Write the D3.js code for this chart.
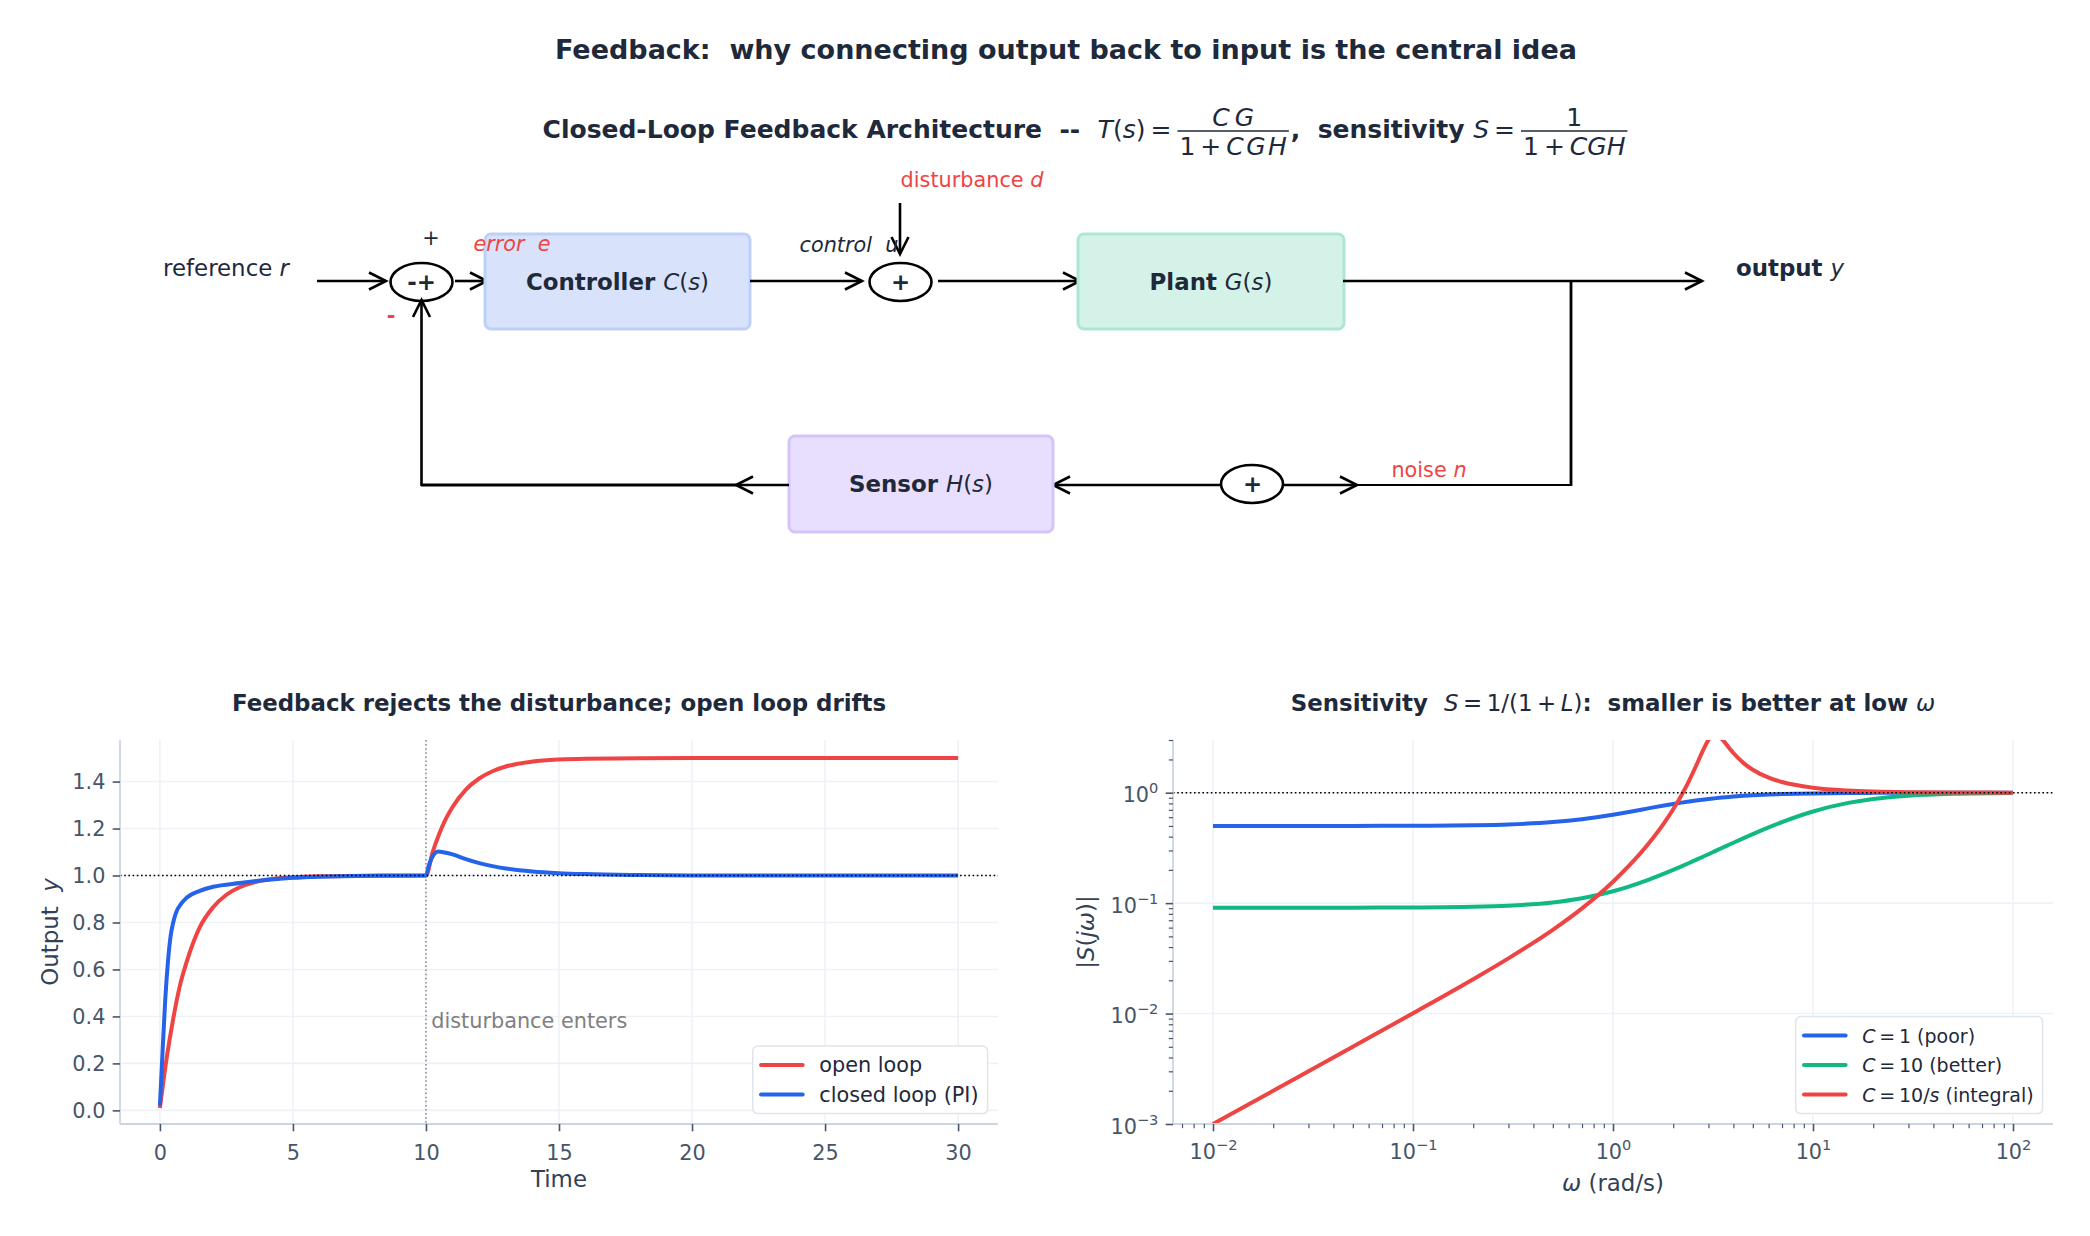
<!DOCTYPE html>
<html><head><meta charset="utf-8">
<script src="https://cdn.jsdelivr.net/npm/d3@7"></script>
<style>
body{margin:0;background:#fff;}
svg{display:block;font-family:"DejaVu Sans",sans-serif;}
text{white-space:pre;}
</style></head><body>
<svg id="chart" width="2090" height="1236"></svg>
<script>
// ---------------- data ----------------
const timeOpen   = [0,0.25,0.5,0.75,1,1.5,2,2.5,3,4,5,6,8,10,10.25,10.5,10.75,11,11.5,12,12.5,13,14,15,16,18,20,25,30];
const yOpenLoop  = [0.01,0.22,0.39,0.53,0.63,0.78,0.865,0.918,0.95,0.982,0.993,0.997,0.9995,1.0,1.099,1.178,1.242,1.292,1.366,1.413,1.444,1.464,1.485,1.494,1.4975,1.4995,1.5,1.5,1.5];
const timeClosed = [0,0.1,0.2,0.3,0.4,0.5,0.6,0.8,1,1.5,2,3,4,5,6,8,10,10.1,10.2,10.3,10.45,10.7,11,11.5,12,12.5,13,14,15,16,18,20,25,30];
const yClosedLoop= [0.02,0.25,0.47,0.63,0.74,0.80,0.84,0.88,0.905,0.935,0.952,0.968,0.981,0.99,0.995,0.999,1.0,1.04,1.07,1.09,1.102,1.098,1.09,1.07,1.053,1.04,1.03,1.017,1.01,1.006,1.002,1.0,1.0,1.0];
const timeTicks  = [0,5,10,15,20,25,30];
const outTicks   = [0,0.2,0.4,0.6,0.8,1.0,1.2,1.4];
const stepLegend = ["open loop","closed loop (PI)"];

const omega      = [0.01,0.02,0.05,0.1,0.2,0.3,0.5,0.7,1,1.2,1.5,1.8,2,2.2,2.4,2.6,2.8,3,3.2,3.5,3.8,4,4.5,5,6,7,10,15,20,30,50,100];
const sPoor      = [.5000,.5001,.5005,.5019,.5074,.5162,.5423,.5761,.6325,.6697,.7211,.7653,.7906,.8128,.8322,.8492,.8641,.8771,.8884,.9030,.9151,.9220,.9361,.9469,.9618,.9713,.9855,.9934,.9963,.9983,.9994,.9999];
const sBetter    = [.0909,.0909,.0910,.0914,.0927,.0949,.1015,.1107,.1280,.1412,.1624,.1847,.2000,.2154,.2309,.2465,.2619,.2774,.2927,.3153,.3376,.3523,.3879,.4220,.4855,.5423,.6760,.8082,.8773,.9394,.9768,.9940];
const sIntegral  = [.0010,.0020,.0050,.01006,.02047,.03159,.05726,.08961,.1562,.2169,.3426,.5298,.7071,.9478,1.2807,1.7435,2.354,3.0,3.343,3.062,2.555,2.287,1.853,1.6125,1.3678,1.2492,1.1098,1.0463,1.0256,1.0112,1.0040,1.0010];
const freqTicks  = [1e-2,1e-1,1,10,100];
const freqExps   = ["\u22122","\u22121","0","1","2"];
const magTicks   = [1e-3,1e-2,1e-1,1];
const magExps    = ["\u22123","\u22122","\u22121","0"];

// ---------------- setup ----------------
const RED="#ef4444", BLUE="#2563eb", GREEN="#10b981";
const DARK="#1e293b", TICK="#475569", LAB="#334155";
const TS="\u2009"; // thin space (math spacing)
const svg=d3.select("#chart");
svg.append("rect").attr("width",2090).attr("height",1236).attr("fill","#fff");

function addParts(t, parts){
  parts.forEach(p=>{
    const ts=t.append("tspan").text(p.t);
    if(p.i) ts.attr("font-style","italic");
    if(p.b!==undefined) ts.attr("font-weight",p.b?"bold":"normal");
    if(p.fill) ts.attr("fill",p.fill);
    if(p.size) ts.attr("font-size",p.size);
    if(p.dy!==undefined) ts.attr("dy",p.dy);
  });
  return t;
}
function rich(parent,x,y,parts,o={}){
  const t=parent.append("text").attr("x",x).attr("y",y)
    .attr("font-size",o.size||20.8).attr("fill",o.fill||DARK)
    .attr("text-anchor",o.anchor||"start").attr("font-weight",o.weight||"normal");
  if(o.transform) t.attr("transform",o.transform);
  return addParts(t,parts);
}

// ---------------- titles ----------------
svg.append("text").attr("x",1066).attr("y",59).attr("text-anchor","middle")
  .attr("font-size",27).attr("font-weight","bold").attr("fill",DARK)
  .text("Feedback:  why connecting output back to input is the central idea");

// subtitle with fractions (chained)
(function(){
  const size=25, g=svg.append("g");
  let x=0;
  const pieces=[
    {parts:[{t:"Closed-Loop Feedback Architecture  --  ",b:true}]},
    {parts:[{t:"T",i:true},{t:"("},{t:"s",i:true},{t:")"},{t:TS+"="+TS}]},
    {frac:true,num:[{t:"C"+TS+"G",i:true}],den:[{t:"1"+TS+"+"+TS},{t:"C\u200aG\u200aH",i:true}]},
    {parts:[{t:",  sensitivity ",b:true}]},
    {parts:[{t:"S",i:true},{t:TS+"="+TS}]},
    {frac:true,num:[{t:"1"}],den:[{t:"1"+TS+"+"+TS},{t:"CGH",i:true}]}
  ];
  pieces.forEach(p=>{
    if(p.frac){
      const num=addParts(g.append("text").attr("y",-12).attr("font-size",size).attr("fill",DARK).attr("text-anchor","middle"),p.num);
      const den=addParts(g.append("text").attr("y",17).attr("font-size",size).attr("fill",DARK).attr("text-anchor","middle"),p.den);
      const w=Math.max(num.node().getComputedTextLength(),den.node().getComputedTextLength())+6;
      num.attr("x",x+w/2); den.attr("x",x+w/2);
      g.append("line").attr("x1",x+1).attr("x2",x+w-1).attr("y1",-7).attr("y2",-7).attr("stroke",DARK).attr("stroke-width",1.6);
      x+=w+1;
    } else {
      const t=addParts(g.append("text").attr("x",x).attr("y",0).attr("font-size",size).attr("fill",DARK),p.parts);
      x+=t.node().getComputedTextLength();
    }
  });
  g.attr("transform",`translate(${1086-x/2},138)`);
})();

// ---------------- block diagram ----------------
const diag=svg.append("g");
const LW=2.6;
function seg(x1,y1,x2,y2,w){diag.append("line").attr("x1",x1).attr("y1",y1).attr("x2",x2).attr("y2",y2).attr("stroke","#000").attr("stroke-width",w||LW);}
function arrow(x1,y1,x2,y2){
  seg(x1,y1,x2,y2);
  const a=Math.atan2(y2-y1,x2-x1),L=17,Wd=8.5;
  const bx=x2-L*Math.cos(a),by=y2-L*Math.sin(a),px=-Math.sin(a)*Wd,py=Math.cos(a)*Wd;
  diag.append("path").attr("d",`M${bx+px},${by+py}L${x2},${y2}L${bx-px},${by-py}`)
    .attr("fill","none").attr("stroke","#000").attr("stroke-width",LW).attr("stroke-linejoin","miter");
}
function block(x,y,w,h,fill,stroke,parts){
  diag.append("rect").attr("x",x).attr("y",y).attr("width",w).attr("height",h).attr("rx",6)
    .attr("fill",fill).attr("stroke",stroke).attr("stroke-width",3);
  rich(diag,x+w/2,y+h/2+8,parts,{size:22.9,anchor:"middle"});
}
function junction(cx,cy,label,bold){
  diag.append("ellipse").attr("cx",cx).attr("cy",cy).attr("rx",31).attr("ry",19)
    .attr("fill","none").attr("stroke","#000").attr("stroke-width",LW);
  diag.append("text").attr("x",cx).attr("y",cy+8).attr("text-anchor","middle")
    .attr("font-size",22.9).attr("font-weight",bold?"bold":"normal").attr("fill",DARK).text(label);
}
// forward path
arrow(317,281,386,281);
junction(421.5,282,"-+",true);
arrow(455,281,487,281);
block(485,234,265,95,"#d8e3fb","#bed0f9",[{t:"Controller ",b:true},{t:"C",i:true},{t:"("},{t:"s",i:true},{t:")"}]);
arrow(750,281,862,281);
arrow(900,203,900,254);
junction(900.5,282,"+",true);
arrow(938,281,1080,281);
block(1078,234,266,95,"#d4f2e8","#ade7d3",[{t:"Plant ",b:true},{t:"G",i:true},{t:"("},{t:"s",i:true},{t:")"}]);
arrow(1343,281,1702,281);
// feedback path
seg(1571,280,1571,486,2.8);
seg(1571,485,1357,485,2.2);
arrow(1283,485,1357,485);
diag.append("text").attr("x",1252.5).attr("y",492).attr("text-anchor","middle").attr("font-size",22.9)
  .attr("font-weight","bold").attr("fill",DARK).text("+");
diag.append("ellipse").attr("cx",1252).attr("cy",484).attr("rx",31).attr("ry",19)
  .attr("fill","none").attr("stroke","#000").attr("stroke-width",LW);
arrow(1221,485,1053,485);
block(789,436,264,96,"#e8defd","#d4c4fb",[{t:"Sensor ",b:true},{t:"H",i:true},{t:"("},{t:"s",i:true},{t:")"}]);
arrow(789,485,736,485);
seg(736,485,421,485,3);
arrow(421.5,486,421.5,300);
// labels
rich(diag,226,276,[{t:"reference "},{t:"r",i:true}],{size:22.9,anchor:"middle"});
rich(diag,1790,276,[{t:"output ",b:true},{t:"y",i:true}],{size:22.9,anchor:"middle"});
rich(diag,431,245,[{t:"+"}],{size:20.8,anchor:"middle"});
rich(diag,391,323,[{t:"-"}],{size:20.8,anchor:"middle",fill:RED,weight:"bold"});
rich(diag,512,251,[{t:"error  e",i:true}],{size:20.8,anchor:"middle",fill:RED});
rich(diag,849,252,[{t:"control  u",i:true}],{size:20.8,anchor:"middle"});
rich(diag,972,187,[{t:"disturbance "},{t:"d",i:true}],{size:20.8,anchor:"middle",fill:RED});
rich(diag,1429,477,[{t:"noise "},{t:"n",i:true}],{size:20.8,anchor:"middle",fill:RED});

// ---------------- common axis styling ----------------
function styleAxis(g){
  g.select(".domain").remove();
  g.selectAll(".tick line").attr("stroke",TICK).attr("stroke-width",1.6);
  g.selectAll(".tick text").attr("fill",TICK).attr("font-size",20.8).attr("font-family",'"DejaVu Sans",sans-serif');
}
function legend(parent,right,bottom,items,fs){
  const g=parent.append("g");
  const texts=items.map((it,i)=>rich(g,0,0,it.parts,{size:fs,fill:DARK}));
  const tw=d3.max(texts,t=>t.node().getComputedTextLength());
  const w=8.3+41.6+16.6+tw+9, h=29.5*items.length+8.5;
  const left=right-w, top=bottom-h;
  g.insert("rect",":first-child").attr("x",left).attr("y",top).attr("width",w).attr("height",h).attr("rx",5)
    .attr("fill","#fff").attr("fill-opacity",0.9).attr("stroke","#dfe5ec").attr("stroke-width",1.5);
  items.forEach((it,i)=>{
    const cy=top+19+29.5*i;
    g.append("line").attr("x1",left+8.3).attr("x2",left+8.3+41.6).attr("y1",cy).attr("y2",cy)
      .attr("stroke",it.color).attr("stroke-width",4).attr("stroke-linecap","round");
    texts[i].attr("x",left+8.3+41.6+16.6).attr("y",cy+7.3);
  });
}

// ---------------- left plot: step response ----------------
const L={x0:120,x1:998,y0:740,y1:1124};
const xL=d3.scaleLinear().domain([-1.5,31.5]).range([L.x0,L.x1]);
const yL=d3.scaleLinear().domain([-0.058,1.577]).range([L.y1,L.y0]);
const gl=svg.append("g");
svg.append("clipPath").attr("id","clipL").append("rect").attr("x",L.x0).attr("y",L.y0).attr("width",L.x1-L.x0).attr("height",L.y1-L.y0);
gl.selectAll(".gx").data(timeTicks).join("line").attr("x1",d=>xL(d)).attr("x2",d=>xL(d)).attr("y1",L.y0).attr("y2",L.y1).attr("stroke","#eef2f7").attr("stroke-width",1.6);
gl.selectAll(".gy").data(outTicks).join("line").attr("y1",d=>yL(d)).attr("y2",d=>yL(d)).attr("x1",L.x0).attr("x2",L.x1).attr("stroke","#eef2f7").attr("stroke-width",1.6);
const lineL=d3.line().x(d=>xL(d[0])).y(d=>yL(d[1])).curve(d3.curveMonotoneX);
const cl=gl.append("g").attr("clip-path","url(#clipL)");
cl.append("path").attr("d",lineL(d3.zip(timeOpen,yOpenLoop))).attr("fill","none").attr("stroke",RED).attr("stroke-width",4).attr("stroke-linejoin","round");
cl.append("path").attr("d",lineL(d3.zip(timeClosed,yClosedLoop))).attr("fill","none").attr("stroke",BLUE).attr("stroke-width",4).attr("stroke-linejoin","round");
gl.append("line").attr("x1",L.x0).attr("x2",L.x1).attr("y1",yL(1)).attr("y2",yL(1)).attr("stroke","#000").attr("stroke-width",1.6).attr("stroke-dasharray","1.6,2.6");
gl.append("line").attr("x1",xL(10)).attr("x2",xL(10)).attr("y1",L.y0).attr("y2",L.y1).attr("stroke","#777").attr("stroke-width",1.3).attr("stroke-dasharray","1.5,2.6");
gl.append("text").attr("x",xL(10.2)).attr("y",yL(0.35)).attr("font-size",20.8).attr("fill","#808080").text("disturbance enters");
// spines
gl.append("line").attr("x1",L.x0).attr("x2",L.x0).attr("y1",L.y0).attr("y2",L.y1).attr("stroke","#cbd5e1").attr("stroke-width",1.8);
gl.append("line").attr("x1",L.x0).attr("x2",L.x1).attr("y1",L.y1).attr("y2",L.y1).attr("stroke","#cbd5e1").attr("stroke-width",1.8);
gl.append("g").attr("transform",`translate(0,${L.y1})`).call(d3.axisBottom(xL).tickValues(timeTicks).tickSize(7.3).tickPadding(14).tickFormat(d3.format("d"))).call(styleAxis);
gl.append("g").attr("transform",`translate(${L.x0},0)`).call(d3.axisLeft(yL).tickValues(outTicks).tickSize(7.3).tickPadding(7.3).tickFormat(d3.format(".1f"))).call(styleAxis);
gl.append("text").attr("x",(L.x0+L.x1)/2).attr("y",711).attr("text-anchor","middle").attr("font-size",22.9).attr("font-weight","bold").attr("fill",DARK)
  .text("Feedback rejects the disturbance; open loop drifts");
gl.append("text").attr("x",(L.x0+L.x1)/2).attr("y",1187).attr("text-anchor","middle").attr("font-size",22.9).attr("fill",LAB).text("Time");
rich(gl,58,932,[{t:"Output  "},{t:"y",i:true}],{size:22.9,anchor:"middle",fill:LAB,transform:"rotate(-90,58,932)"});
legend(gl,L.x1-10.4,L.y1-10.4,[
  {color:RED,parts:[{t:stepLegend[0]}]},
  {color:BLUE,parts:[{t:stepLegend[1]}]}
],20.8);

// ---------------- right plot: sensitivity ----------------
const R={x0:1173,x1:2053,y0:740,y1:1124};
const xR=d3.scaleLog().domain([Math.pow(10,-2.2),Math.pow(10,2.2)]).range([R.x0,R.x1]);
const yR=d3.scaleLog().domain([1e-3,3]).range([R.y1,R.y0]);
const gr=svg.append("g");
svg.append("clipPath").attr("id","clipR").append("rect").attr("x",R.x0).attr("y",R.y0).attr("width",R.x1-R.x0).attr("height",R.y1-R.y0);
gr.selectAll(".gx").data(freqTicks).join("line").attr("x1",d=>xR(d)).attr("x2",d=>xR(d)).attr("y1",R.y0).attr("y2",R.y1).attr("stroke","#eef2f7").attr("stroke-width",1.6);
gr.selectAll(".gy").data(magTicks).join("line").attr("y1",d=>yR(d)).attr("y2",d=>yR(d)).attr("x1",R.x0).attr("x2",R.x1).attr("stroke","#eef2f7").attr("stroke-width",1.6);
const lineR=d3.line().x(d=>xR(d[0])).y(d=>yR(d[1])).curve(d3.curveMonotoneX);
const cr=gr.append("g").attr("clip-path","url(#clipR)");
[[sPoor,BLUE],[sBetter,GREEN],[sIntegral,RED]].forEach(([s,c])=>{
  cr.append("path").attr("d",lineR(d3.zip(omega,s))).attr("fill","none").attr("stroke",c).attr("stroke-width",4).attr("stroke-linejoin","round");
});
gr.append("line").attr("x1",R.x0).attr("x2",R.x1).attr("y1",yR(1)).attr("y2",yR(1)).attr("stroke","#000").attr("stroke-width",1.6).attr("stroke-dasharray","1.6,2.6");
gr.append("line").attr("x1",R.x0).attr("x2",R.x0).attr("y1",R.y0).attr("y2",R.y1).attr("stroke","#cbd5e1").attr("stroke-width",1.8);
gr.append("line").attr("x1",R.x0).attr("x2",R.x1).attr("y1",R.y1).attr("y2",R.y1).attr("stroke","#cbd5e1").attr("stroke-width",1.8);
// minor ticks
const minorX=[],minorY=[];
for(let k=-3;k<=2;k++) for(let m=2;m<=9;m++){const v=m*Math.pow(10,k); if(v>xR.domain()[0]&&v<xR.domain()[1]) minorX.push(v); if(v>=1e-3&&v<=3.0001) minorY.push(v);}
gr.append("g").attr("transform",`translate(0,${R.y1})`).call(d3.axisBottom(xR).tickValues(minorX).tickSize(4.2).tickFormat(()=>"")).call(styleAxis).selectAll(".tick line").attr("stroke-width",1.2);
gr.append("g").attr("transform",`translate(${R.x0},0)`).call(d3.axisLeft(yR).tickValues(minorY).tickSize(4.2).tickFormat(()=>"")).call(styleAxis).selectAll(".tick line").attr("stroke-width",1.2);
const axXR=gr.append("g").attr("transform",`translate(0,${R.y1})`).call(d3.axisBottom(xR).tickValues(freqTicks).tickSize(7.3).tickFormat(()=>"")).call(styleAxis);
axXR.selectAll(".tick text").each(function(d,i){
  const t=d3.select(this).attr("y",35).attr("dy",null).attr("text-anchor","middle");
  t.append("tspan").text("10");
  t.append("tspan").text(freqExps[i]).attr("font-size",14.6).attr("dy",-9);
});
const axYR=gr.append("g").attr("transform",`translate(${R.x0},0)`).call(d3.axisLeft(yR).tickValues(magTicks).tickSize(7.3).tickPadding(7.3).tickFormat(()=>"")).call(styleAxis);
axYR.selectAll(".tick text").each(function(d,i){
  const t=d3.select(this).attr("dy",null).attr("y",9).attr("text-anchor","end");
  t.append("tspan").text("10");
  t.append("tspan").text(magExps[i]).attr("font-size",14.6).attr("dy",-9);
});
rich(gr,(R.x0+R.x1)/2,711,[{t:"Sensitivity  ",b:true},{t:"S",i:true,b:false},{t:TS+"="+TS+"1/(1"+TS+"+"+TS,b:false},{t:"L",i:true,b:false},{t:")",b:false},{t:":  smaller is better at low ",b:true},{t:"\u03c9",i:true,b:false}],{size:22.9,anchor:"middle",weight:"bold"});
rich(gr,(R.x0+R.x1)/2,1191,[{t:"\u03c9",i:true},{t:" (rad/s)"}],{size:22.9,anchor:"middle",fill:LAB});
rich(gr,1094,932,[{t:"|"},{t:"S",i:true},{t:"("},{t:"j\u03c9",i:true},{t:")|"}],{size:22.9,anchor:"middle",fill:LAB,transform:"rotate(-90,1094,932)"});
legend(gr,R.x1-10.4,R.y1-10.4,[
  {color:BLUE,parts:[{t:"C",i:true},{t:TS+"="+TS+"1 (poor)"}]},
  {color:GREEN,parts:[{t:"C",i:true},{t:TS+"="+TS+"10 (better)"}]},
  {color:RED,parts:[{t:"C",i:true},{t:TS+"="+TS+"10/"},{t:"s",i:true},{t:" (integral)"}]}
],19);
</script>
</body></html>
